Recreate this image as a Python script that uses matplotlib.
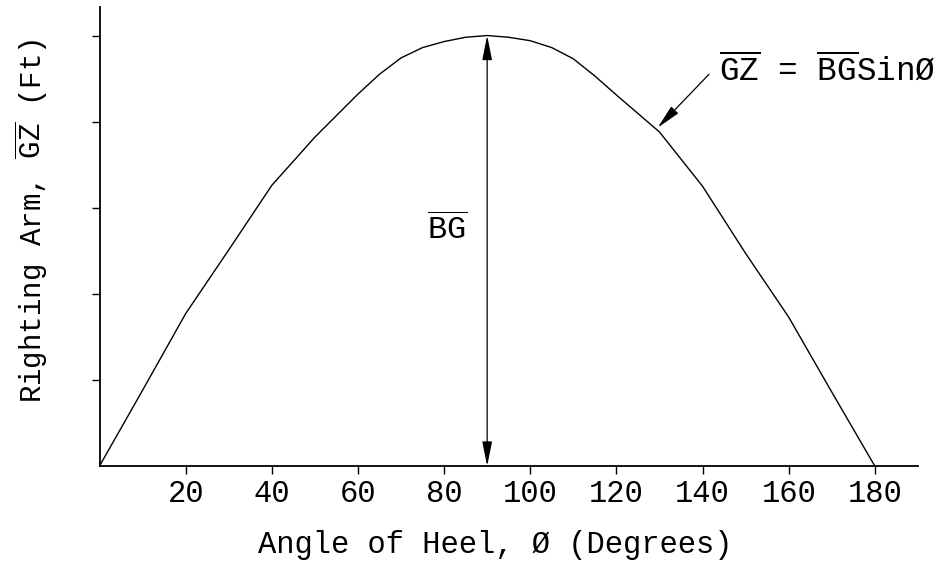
import matplotlib
matplotlib.use("Agg")
import matplotlib.pyplot as plt

# values
angle = [0, 10, 20, 30, 40, 50, 60, 65, 70, 75, 80, 85, 90,
         95, 100, 105, 110, 115, 120, 130, 140, 150, 160, 170, 180]
gz = [0.0, 0.88, 1.77, 2.51, 3.26, 3.82, 4.32, 4.55, 4.74, 4.86, 4.93, 4.98, 5.0,
      4.98, 4.94, 4.86, 4.73, 4.53, 4.31, 3.88, 3.25, 2.47, 1.73, 0.86, 0.0]

xticks = [20, 40, 60, 80, 100, 120, 140, 160, 180]
yticks = [1, 2, 3, 4, 5]
bg = 5.0
bg_angle = 90

plt.rcParams['font.family'] = ['Liberation Mono', 'DejaVu Sans Mono']
plt.rcParams['mathtext.fontset'] = 'custom'
plt.rcParams['mathtext.rm'] = 'Liberation Mono'

fig = plt.figure(figsize=(9.45, 5.61), dpi=100)
ax = fig.add_axes([0.1053, 0.1693, 0.866, 0.818])

ax.plot(angle, gz, color='black', lw=1.0)

ax.set_xlim(0, 190)
ax.set_ylim(0, 5.33)
ax.set_xticks(xticks)
ax.set_xticklabels([str(t) for t in xticks])
ax.set_yticks(yticks)
ax.set_yticklabels([])
for s in ['top', 'right']:
    ax.spines[s].set_visible(False)
for s in ['left', 'bottom']:
    ax.spines[s].set_linewidth(1.3)
ax.tick_params(direction='out', length=6, width=1, labelsize=22, pad=3)

ax.set_xlabel('Angle of Heel, Ø (Degrees)', fontsize=22, va='center')
ax.xaxis.set_label_coords(0.483, -0.172)
ax.set_ylabel(r'Righting Arm, $\overline{\mathrm{GZ}}$ (Ft)', fontsize=21, va='center')
ax.yaxis.set_label_coords(-0.083, 0.535)

# BG double arrow at 90 degrees
ax.annotate('', xy=(bg_angle, bg), xytext=(bg_angle, 0),
            arrowprops=dict(arrowstyle='<|-|>,head_length=1.5,head_width=0.3',
                            color='black', lw=0.9, shrinkA=0, shrinkB=0))
ax.text(bg_angle - 4.6, 2.74, r'$\overline{\mathrm{BG}}$', fontsize=23,
        ha='right', va='center')

# GZ = BG sin label with leader arrow
ax.annotate('', xy=(129.6, 3.93), xytext=(141.5, 4.55),
            arrowprops=dict(arrowstyle='-|>,head_length=1.5,head_width=0.3',
                            color='black', lw=0.9, shrinkA=0, shrinkB=0))
ax.text(143.8, 4.60, r'$\overline{\mathrm{GZ}}$ = $\overline{\mathrm{BG}}$SinØ',
        fontsize=23.5, ha='left', va='center')

fig.savefig('out.png', dpi=100)
